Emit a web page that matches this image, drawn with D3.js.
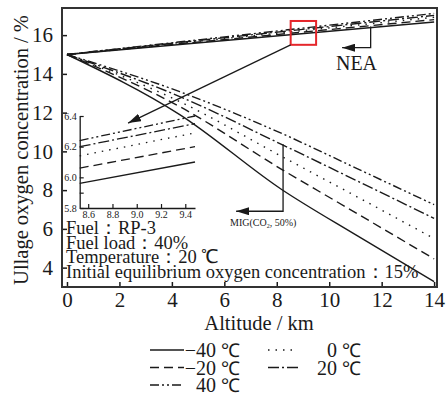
<!DOCTYPE html>
<html>
<head>
<meta charset="utf-8">
<script src="https://cdn.jsdelivr.net/npm/d3@7"></script>
<style>
body { margin: 0; background: #fff; }
svg, svg text { font-family: 'Liberation Serif', 'Times New Roman', serif; }
svg { display: block; }
</style>
</head>
<body>
<div id="box"></div>
<script>
// MIG (CO2 50%) curves, ullage O2 % vs altitude km
const migAlt = [0, 4.3, 8.2, 11, 14];
const migM40 = [15, 11.9, 8.02, 5.7, 3.28];
const migM20 = [15, 12.31, 9.06, 6.84, 4.45];
const mig0 = [15, 12.57, 9.73, 7.7, 5.5];
const migP20 = [15, 12.83, 10.35, 8.52, 6.54];
const migP40 = [15, 13.08, 10.92, 9.15, 7.25];

// NEA curves
const neaAlt = [0, 14];
const neaM40 = [15, 16.68];
const neaM20 = [15, 16.8];
const nea0 = [15, 16.92];
const neaP20 = [15, 17.02];
const neaP40 = [15, 17.12];

// zoomed NEA detail (inset)
const insetAlt = [8.53, 9.48];
const insetM40 = [5.96, 6.1];
const insetM20 = [6.06, 6.2];
const inset0 = [6.14, 6.29];
const insetP20 = [6.2, 6.35];
const insetP40 = [6.24, 6.4];

const tempLabels = ['\u221240', '\u221220', '0', '20', '40'];
const xTicks = [0, 2, 4, 6, 8, 10, 12, 14];
const yTicks = [4, 6, 8, 10, 12, 14, 16];
const insetXTicks = [8.6, 8.8, 9.0, 9.2, 9.4];
const insetYTicks = [5.8, 5.9, 6.0, 6.2, 6.4];
const notes = ['Fuel\uff1aRP-3', 'Fuel load\uff1a40%', 'Temperature\uff1a20 \u2103', 'Initial equilibrium oxygen concentration\uff1a15%'];

const dashes = [null, '9,5', '1.5,6', '11,3,2,3', '9,3,2,3,2,3'];
const ink = '#1a1a1a';
const serif = "'Liberation Serif', 'Times New Roman', serif";

const series = tempLabels.map((t, i) => ({
	label: t,
	dash: dashes[i],
	mig: [migM40, migM20, mig0, migP20, migP40][i],
	nea: [neaM40, neaM20, nea0, neaP20, neaP40][i],
	inset: [insetM40, insetM20, inset0, insetP20, insetP40][i],
}));

const width = 446;
const height = 397;

const x = d3.scaleLinear([-0.19, 14.11], [62, 437]);
const y = d3.scaleLinear([3, 17.4], [287, 8]);

const svg = d3.select('#box').append('svg')
	.attr('width', width)
	.attr('height', height)
	.attr('viewBox', [0, 0, width, height]);

const defs = svg.append('defs');
defs.append('marker')
	.attr('id', 'head')
	.attr('viewBox', '0 0 13 8')
	.attr('refX', 13)
	.attr('refY', 4)
	.attr('markerUnits', 'userSpaceOnUse')
	.attr('markerWidth', 13)
	.attr('markerHeight', 8)
	.attr('orient', 'auto')
	.append('path')
	.attr('d', 'M0,0L13,4L0,8z')
	.attr('fill', ink);

// axis styling helper: replace d3's sans-serif defaults
const styleAxis = (g, size, tw) => g
	.attr('font-family', serif)
	.attr('font-size', size)
	.call(g => g.selectAll('.tick line').attr('stroke', ink).attr('stroke-width', tw))
	.call(g => g.selectAll('.tick text').attr('font-family', serif).attr('fill', ink));

// axes
svg.append('g')
	.attr('transform', `translate(0,${y.range()[0]})`)
	.call(d3.axisBottom(x).tickValues(xTicks).tickSize(-5).tickPadding(5))
	.call(g => g.select('.domain').remove())
	.call(g => styleAxis(g, 21, 1.5));

svg.append('g')
	.attr('transform', `translate(${x.range()[0]},0)`)
	.call(d3.axisLeft(y).tickValues(yTicks).tickSize(-5).tickPadding(9))
	.call(g => g.select('.domain').remove())
	.call(g => styleAxis(g, 21, 1.5));

svg.append('rect')
	.attr('x', x.range()[0])
	.attr('y', y.range()[1])
	.attr('width', x.range()[1] - x.range()[0])
	.attr('height', y.range()[0] - y.range()[1])
	.attr('fill', 'none')
	.attr('stroke', '#333')
	.attr('stroke-width', 2);

svg.append('text')
	.attr('x', 259)
	.attr('y', 330)
	.attr('text-anchor', 'middle')
	.attr('font-size', 20.5)
	.attr('fill', ink)
	.text('Altitude / km');

svg.append('text')
	.attr('transform', 'translate(28,150) rotate(-90)')
	.attr('text-anchor', 'middle')
	.attr('font-size', 20.5)
	.attr('fill', ink)
	.text('Ullage oxygen concentration / %');

// main curves
const line = d3.line().curve(d3.curveMonotoneX);

for (const s of series) {
	svg.append('path')
		.attr('fill', 'none')
		.attr('stroke', ink)
		.attr('stroke-width', 1.4)
		.attr('stroke-dasharray', s.dash)
		.attr('d', line(migAlt.map((a, i) => [x(a), y(s.mig[i])])));
	svg.append('path')
		.attr('fill', 'none')
		.attr('stroke', ink)
		.attr('stroke-width', 1.4)
		.attr('stroke-dasharray', s.dash)
		.attr('d', line(neaAlt.map((a, i) => [x(a), y(s.nea[i])])));
}

// inset
const ix = d3.scaleLinear([8.53, 9.48], [79.7, 195]);
const iy = d3.scaleLinear([5.8, 6.4], [208, 116]);

svg.append('g')
	.attr('transform', `translate(0,${iy.range()[0]})`)
	.call(d3.axisBottom(ix).tickValues(insetXTicks).tickSize(-4).tickSizeOuter(0).tickPadding(3).tickFormat(d3.format('.1f')))
	.call(g => g.select('.domain').attr('stroke', ink).attr('stroke-width', 1.3))
	.call(g => styleAxis(g, 10, 1.2));

svg.append('g')
	.attr('transform', `translate(${ix.range()[0]},0)`)
	.call(d3.axisLeft(iy).tickValues(insetYTicks).tickSize(-4).tickSizeOuter(0).tickPadding(3)
		.tickFormat(d => Math.round(d * 10) % 2 ? '' : d3.format('.1f')(d)))
	.call(g => g.select('.domain').attr('stroke', ink).attr('stroke-width', 1.3))
	.call(g => styleAxis(g, 10, 1.2));

for (const s of series) {
	svg.append('path')
		.attr('fill', 'none')
		.attr('stroke', ink)
		.attr('stroke-width', 1.3)
		.attr('stroke-dasharray', s.dash)
		.attr('d', d3.line()(insetAlt.map((a, i) => [ix(a), iy(s.inset[i])])));
}

// zoom box and arrows
svg.append('rect')
	.attr('x', x(8.53))
	.attr('y', y(16.73))
	.attr('width', x(9.5) - x(8.53))
	.attr('height', y(15.5) - y(16.73))
	.attr('fill', 'none')
	.attr('stroke', '#e5262b')
	.attr('stroke-width', 2);

svg.append('line')
	.attr('x1', x(8.53)).attr('y1', y(15.5))
	.attr('x2', x(2.33)).attr('y2', y(11.46))
	.attr('stroke', ink).attr('stroke-width', 1.3)
	.attr('marker-end', 'url(#head)');

svg.append('path')
	.attr('d', `M${x(11.58)},${y(16.45)}V${y(15.35)}H${x(10.49)}`)
	.attr('fill', 'none').attr('stroke', ink).attr('stroke-width', 1.3)
	.attr('marker-end', 'url(#head)');

svg.append('text')
	.attr('x', x(11.04))
	.attr('y', y(14.22))
	.attr('text-anchor', 'middle')
	.attr('font-size', 20)
	.attr('fill', ink)
	.text('NEA');

svg.append('path')
	.attr('d', `M${x(8.24)},${y(10.37)}V${y(6.91)}H${x(6.45)}`)
	.attr('fill', 'none').attr('stroke', ink).attr('stroke-width', 1.3)
	.attr('marker-end', 'url(#head)');

const mig = svg.append('text')
	.attr('x', x(6.22))
	.attr('y', y(6.17))
	.attr('font-size', 10)
	.attr('fill', ink);
mig.append('tspan').text('MIG(CO');
mig.append('tspan').attr('font-size', 6).attr('dy', 2).text('2');
mig.append('tspan').attr('dy', -2).text(', 50%)');

// condition notes
svg.append('g')
	.selectAll('text')
	.data(notes)
	.join('text')
	.attr('x', 66)
	.attr('y', (_, i) => [234, 249, 263, 278][i])
	.attr('font-size', 18.5)
	.attr('fill', ink)
	.text(d => d);

// legend
const legendPos = [[0, 0], [0, 1], [1, 0], [1, 1], [0, 2]];
const legend = svg.append('g');
series.forEach((s, i) => {
	const [c, r] = legendPos[i];
	const base = 357 + r * 17.5;
	const x0 = c ? 268 : 150;
	const x1 = c ? 298 : 184;
	const numEnd = c ? 337 : 216;
	legend.append('line')
		.attr('x1', x0).attr('x2', x1)
		.attr('y1', base - 7).attr('y2', base - 7)
		.attr('stroke', ink)
		.attr('stroke-width', 1.4)
		.attr('stroke-dasharray', s.dash);
	legend.append('text')
		.attr('x', numEnd)
		.attr('y', base)
		.attr('text-anchor', 'end')
		.attr('font-size', 20)
		.attr('fill', ink)
		.text(s.label);
	legend.append('text')
		.attr('x', numEnd + 5)
		.attr('y', base)
		.attr('font-size', 19)
		.attr('fill', ink)
		.text('\u2103');
});
</script>
</body>
</html>
